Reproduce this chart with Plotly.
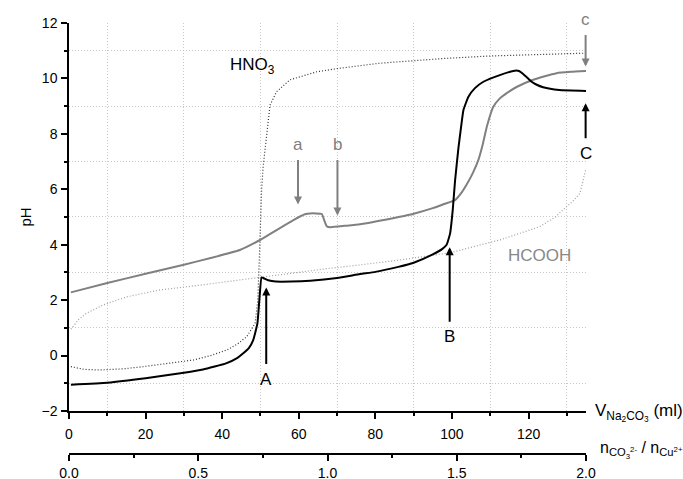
import plotly.graph_objects as go

# ---- data ----
v_black = [0.5, 10, 20, 30, 35, 41, 44, 45.5, 47, 48.1, 49.2, 49.7, 50.3, 51, 52, 54, 58, 63, 70, 76,
           80, 86, 90, 95, 97.5, 98.6, 99.5, 100.2, 100.8, 101.7, 102.5, 103, 104.3, 106, 108.2,
           112.5, 116.4, 117.5, 118.6, 120, 120.8, 122, 123.8, 128, 135]
ph_black = [-1.05, -0.98, -0.82, -0.62, -0.50, -0.28, -0.08, 0.08, 0.28, 0.56, 1.16, 2.0, 2.82, 2.78,
            2.72, 2.67, 2.67, 2.70, 2.80, 2.94, 3.02, 3.2, 3.35, 3.65, 3.85, 4.0, 4.4, 5.25, 6.3,
            7.5, 8.38, 8.86, 9.34, 9.65, 9.88, 10.12, 10.28, 10.27, 10.16, 9.98, 9.88, 9.78, 9.68,
            9.58, 9.55]

v_gray = [0.5, 10, 20, 30, 37, 44.6, 49.9, 54.2, 58.6, 61.6, 63, 66, 66.6, 67.3, 68.3, 72, 76, 86.4,
          90, 95, 98, 100.8, 102.5, 103.8, 105.5, 106.9, 108, 109.1, 110.8, 112.5, 114.3, 117,
          121.2, 124, 127.3, 131, 135]
ph_gray = [2.28, 2.62, 2.95, 3.28, 3.52, 3.81, 4.17, 4.53, 4.89, 5.10, 5.13, 5.11, 4.9, 4.67, 4.63,
           4.68, 4.74, 5.01, 5.12, 5.32, 5.47, 5.61, 5.88, 6.16, 6.6, 7.06, 7.6, 8.26, 8.98, 9.28,
           9.47, 9.7, 9.95, 10.07, 10.19, 10.24, 10.27]

v_hno3 = [0.5, 4, 8, 14, 19.4, 26, 32.5, 37, 41.2, 44, 46.4, 48.6, 49.3, 49.7, 50.0, 50.3, 50.7,
          51.6, 52.5, 54.2, 57.7, 64.7, 70.8, 81.2, 86.4, 98, 110, 122, 134.5]
ph_hno3 = [-0.4, -0.5, -0.52, -0.48, -0.40, -0.28, -0.16, 0.0, 0.20, 0.42, 0.68, 1.16, 2.0, 3.5,
           5.0, 6.0, 6.82, 8.02, 9.04, 9.52, 9.95, 10.24, 10.37, 10.55, 10.61, 10.72, 10.81,
           10.87, 10.91]

v_hcooh = [0.5, 2.5, 4.6, 9, 15.1, 23.8, 32.5, 41.2, 49.9, 58.6, 67, 76, 86.4, 99.5, 112.5, 122.9,
           127, 129.9, 131.8, 133.4, 135]
ph_hcooh = [0.95, 1.3, 1.53, 1.83, 2.12, 2.37, 2.51, 2.67, 2.83, 2.99, 3.13, 3.27, 3.45, 3.71,
            4.17, 4.65, 5.0, 5.37, 5.6, 5.85, 6.75]

ratio_range = [0.0, 2.0]
ratio_ticks = [0.0, 0.5, 1.0, 1.5, 2.0]

# arrow markers: label, text position (V, pH), tip (V, pH), colour
arrow_labels = ["a", "b", "c", "C", "B", "A"]
arrow_text_v = [59.8, 70.1, 134.9, 134.9, 99.4, 51.5]
arrow_text_ph = [7.6, 7.6, 12.11, 7.30, 0.68, -0.85]
arrow_tip_v = [59.8, 70.1, 134.9, 134.9, 99.4, 51.5]
arrow_tip_ph = [5.45, 5.05, 10.43, 9.1, 3.91, 2.46]
arrow_colors = ["#808080", "#808080", "#808080", "#000000", "#000000", "#000000"]

FONT = "Liberation Sans, Arial, sans-serif"
GRID = dict(showgrid=True, gridcolor="#c8c8c8", griddash="1px,2px", gridwidth=1)

fig = go.Figure()
fig.add_trace(go.Scatter(x=v_hcooh, y=ph_hcooh, mode="lines",
                         line=dict(color="#a0a0a0", width=1.2, dash="1px,2px"),
                         showlegend=False, hoverinfo="skip"))
fig.add_trace(go.Scatter(x=v_hno3, y=ph_hno3, mode="lines",
                         line=dict(color="#333333", width=1.2, dash="1px,2px"),
                         showlegend=False, hoverinfo="skip"))
fig.add_trace(go.Scatter(x=v_gray, y=ph_gray, mode="lines",
                         line=dict(color="#808080", width=2, shape="spline", smoothing=0.4),
                         showlegend=False, hoverinfo="skip"))
fig.add_trace(go.Scatter(x=v_black, y=ph_black, mode="lines",
                         line=dict(color="#000000", width=2, shape="spline", smoothing=0.4),
                         showlegend=False, hoverinfo="skip"))
# invisible trace to carry the secondary (ratio) axis
fig.add_trace(go.Scatter(x=ratio_range, y=[None, None], xaxis="x2", yaxis="y",
                         mode="lines", showlegend=False, hoverinfo="skip"))

axis_common = dict(showline=True, linecolor="black", linewidth=1.5, ticks="outside",
                   tickcolor="black", tickwidth=1.5, ticklen=6, zeroline=False,
                   automargin=False,
                   tickfont=dict(family=FONT, size=14, color="black"))

fig.update_layout(
    width=683, height=479,
    margin=dict(l=69, r=97, t=23, b=25, autoexpand=False),
    paper_bgcolor="white", plot_bgcolor="white",
    font=dict(family=FONT, color="black"),
    xaxis=dict(range=[0, 135], domain=[0, 1], anchor="y", dtick=20, tick0=0,
               showgrid=False, ticklabelstandoff=3,
               minor=dict(dtick=10, tick0=0, ticks="outside", ticklen=3, tickwidth=1.5,
                          tickcolor="black", **GRID),
               **axis_common),
    xaxis2=dict(range=ratio_range, overlaying="x", anchor="free", position=0,
                tickvals=ratio_ticks, tickformat=".1f", showgrid=False, ticklabelstandoff=0,
                minor=dict(dtick=0.25, tick0=0, ticks="outside", ticklen=3, tickwidth=1.5,
                           tickcolor="black", showgrid=False),
                **axis_common),
    yaxis=dict(range=[-2, 12], domain=[0.0998, 1], anchor="x", dtick=2, tick0=0,
               showgrid=False, ticklabelstandoff=1,
               minor=dict(dtick=1, tick0=0, ticks="outside", ticklen=3, tickwidth=1.5,
                          tickcolor="black", **GRID),
               title=dict(text="pH", font=dict(family=FONT, size=15), standoff=6),
               **axis_common),
)

annotations = []
for lab, tx, ty, hx, hy, col in zip(arrow_labels, arrow_text_v, arrow_text_ph,
                                    arrow_tip_v, arrow_tip_ph, arrow_colors):
    annotations.append(dict(x=hx, y=hy, ax=tx, ay=ty, xref="x", yref="y", axref="x", ayref="y",
                            text=lab, showarrow=True, arrowhead=2, arrowsize=0.8,
                            arrowwidth=2, arrowcolor=col, startstandoff=4,
                            font=dict(family=FONT, size=17, color=col)))

annotations += [
    dict(x=47.8, y=10.45, xref="x", yref="y", text="HNO<sub>3</sub>", showarrow=False,
         font=dict(family=FONT, size=17, color="black")),
    dict(x=122.8, y=3.60, xref="x", yref="y", text="HCOOH", showarrow=False,
         font=dict(family=FONT, size=17, color="#888888")),
    dict(x=1.0, y=0.0998, xref="paper", yref="paper", xanchor="left", yanchor="middle",
         xshift=7, yshift=-2,
         text="V<sub>Na<sub>2</sub>CO<sub>3</sub></sub> (ml)", showarrow=False,
         font=dict(family=FONT, size=17, color="black")),
    dict(x=1.0, y=0.0, xref="paper", yref="paper", xanchor="left", yanchor="middle",
         xshift=12, yshift=4,
         text="n<sub>CO<sub>3</sub><sup>2-</sup></sub> / n<sub>Cu<sup>2+</sup></sub>",
         showarrow=False, font=dict(family=FONT, size=16, color="black")),
]
fig.update_layout(annotations=annotations)

fig.write_html("out.html")
